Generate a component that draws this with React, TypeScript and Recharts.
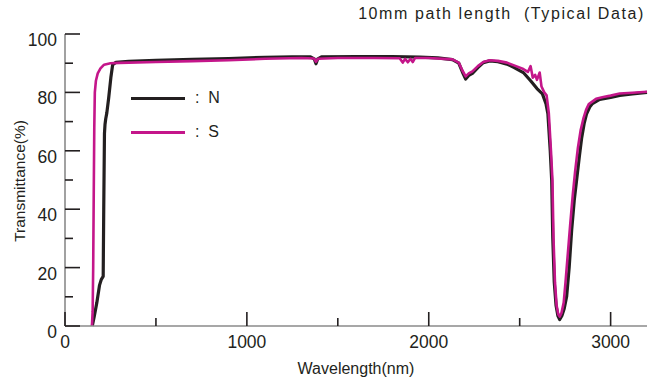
import { LineChart, Line, XAxis, YAxis, Label } from 'recharts';

// N grade (black)
const nWavelength = [
  150, 160, 175, 190, 200, 210, 213, 217, 220, 224, 230, 240, 252, 262, 280, 350, 500, 700, 900, 1100,
  1250, 1350, 1370, 1380, 1390, 1410, 1600, 1800, 1950, 2050, 2130, 2165, 2185, 2203, 2220, 2240, 2270,
  2300, 2335, 2380, 2430, 2470, 2520, 2560, 2595, 2625, 2645, 2655, 2668, 2676, 2682, 2690, 2700, 2710,
  2720, 2732, 2745, 2758, 2772, 2786, 2800, 2813, 2828, 2841, 2855, 2868, 2885, 2900, 2940, 3000, 3050,
  3120, 3200,
];
const nTransmittance = [
  0, 3, 8, 14, 16, 17, 40, 66, 69, 71, 73, 78, 85, 89.5, 90.3, 90.6, 91, 91.3, 91.6, 92,
  92.2, 92.2, 91.5, 89.8, 91.5, 92.2, 92.3, 92.3, 92.1, 91.8, 91.2, 90, 87, 84.6, 85.8, 86.5, 88.5,
  90.2, 90.8, 90.5, 89.7, 88.5, 86.8, 84, 81.3, 79.5, 76, 72.7, 60, 49.8, 30, 15, 7, 3.5,
  2.2, 3.5, 6, 10, 20, 33, 43, 50, 58, 64.5, 69.5, 72.7, 75, 76.2, 77.6, 78.3, 79,
  79.5, 80,
];

// S grade (magenta)
const sWavelength = [
  148, 152, 155, 158, 161, 164, 170, 180, 195, 215, 250, 300, 500, 700, 900, 1100, 1300, 1370, 1380,
  1390, 1500, 1700, 1840, 1857, 1870, 1885, 1900, 1912, 1925, 2000, 2130, 2165, 2185, 2203, 2220, 2240,
  2270, 2300, 2335, 2380, 2430, 2480, 2520, 2545, 2560, 2572, 2585, 2595, 2610, 2620, 2635, 2648, 2660,
  2672, 2680, 2686, 2694, 2703, 2712, 2720, 2730, 2742, 2752, 2765, 2778, 2792, 2805, 2820, 2835, 2850,
  2865, 2880, 2920, 2960, 3000, 3050, 3120, 3200,
];
const sTransmittance = [
  0, 5, 20, 45, 68, 80, 84, 86.5, 88.2, 89.5, 90, 90.1, 90.4, 90.7, 91, 91.5, 91.8, 91.6, 90.5,
  91.5, 91.8, 91.8, 91.7, 90.2, 91.5, 90.3, 91.5, 90.4, 91.8, 91.8, 91.3, 90.2, 87.5, 85.5, 86.5, 87.2,
  89, 90.4, 91, 90.8, 90.2, 89, 88, 87, 89, 85, 86, 84.3, 86.8, 82, 80, 79, 73,
  60, 50, 30, 15, 7, 4, 3.2, 4.5, 8, 15, 25, 35, 45, 53, 61, 67, 71,
  74, 76, 77.8, 78.4, 78.9, 79.6, 79.9, 80.2,
];

const xTicks = [0, 500, 1000, 1500, 2000, 2500, 3000];
const xLabels = [0, 1000, 2000, 3000];
const yTicks = [0, 10, 20, 30, 40, 50, 60, 70, 80, 90, 100];
const yLabels = [0, 20, 40, 60, 80, 100];

const toPoints = (w: number[], t: number[]) => w.map((v, i) => ({ w: v, t: t[i] }));

const series = [
  { key: 'N', label: ':  N', color: '#231f20', width: 3.2, data: toPoints(nWavelength, nTransmittance) },
  { key: 'S', label: ':  S', color: '#c4168a', width: 2.6, data: toPoints(sWavelength, sTransmittance) },
];

const INK = '#231f20';
const FONT = '"Liberation Sans", Arial, sans-serif';

function BottomTick({ x, y, payload }: any) {
  const major = xLabels.includes(payload.value);
  return (
    <g>
      <line x1={x} y1={y} x2={x} y2={y - (major ? 14 : 8)} stroke={INK} strokeWidth={1.6} />
      {major && (
        <text x={x} y={y + 22} textAnchor="middle" fontSize={17.5} fill={INK} fontFamily={FONT}>
          {payload.value}
        </text>
      )}
    </g>
  );
}

function LeftTick({ x, y, payload }: any) {
  const major = yLabels.includes(payload.value);
  return (
    <g>
      <line x1={x} y1={y} x2={x + (major ? 15 : 8)} y2={y} stroke={INK} strokeWidth={1.6} />
      {major && (
        <text x={x - 8} y={y + 12} textAnchor="end" fontSize={17.5} fill={INK} fontFamily={FONT}>
          {payload.value}
        </text>
      )}
    </g>
  );
}

function TopTick({ x, y }: any) {
  return <line x1={x} y1={y} x2={x} y2={y + 9} stroke={INK} strokeWidth={1.6} />;
}

function RightTick({ x, y }: any) {
  return <line x1={x} y1={y} x2={x - 10} y2={y} stroke={INK} strokeWidth={1.6} />;
}

function YTitle({ viewBox }: any) {
  const cx = viewBox.x + 19;
  const cy = viewBox.y + viewBox.height / 2 + 1;
  return (
    <text
      x={cx}
      y={cy}
      transform={`rotate(-90 ${cx} ${cy})`}
      textAnchor="middle"
      dominantBaseline="central"
      fontSize={15.5}
      fill={INK}
      fontFamily={FONT}
    >
      Transmittance(%)
    </text>
  );
}

function XTitle({ viewBox }: any) {
  return (
    <text
      x={viewBox.x + viewBox.width / 2}
      y={374}
      textAnchor="middle"
      fontSize={16}
      fill={INK}
      fontFamily={FONT}
    >
      Wavelength(nm)
    </text>
  );
}

export default function App() {
  return (
    <div style={{ position: 'absolute', left: 0, top: 0, width: 648, height: 380, background: '#fff' }}>
      <div
        style={{
          position: 'absolute',
          right: 3,
          top: 5,
          fontFamily: FONT,
          fontSize: 16,
          letterSpacing: 1.6,
          color: INK,
          whiteSpace: 'pre',
          lineHeight: '18px',
        }}
      >
        10mm path length  (Typical Data)
      </div>

      <LineChart width={648} height={380} margin={{ top: 34, right: 1, bottom: 0, left: 0 }}>
        <XAxis
          dataKey="w"
          type="number"
          domain={[0, 3200]}
          ticks={xTicks}
          interval={0}
          height={54}
          tickSize={0}
          tickMargin={0}
          tickLine={false}
          tick={<BottomTick />}
          axisLine={{ stroke: '#8a8a8a', strokeWidth: 1.6 }}
        >
          <Label content={<XTitle />} />
        </XAxis>
        <XAxis
          xAxisId="top"
          orientation="top"
          type="number"
          domain={[0, 3200]}
          allowDataOverflow
          ticks={xTicks.slice(1)}
          interval={0}
          height={0}
          tickSize={0}
          tickMargin={0}
          tickLine={false}
          tick={<TopTick />}
          axisLine={{ stroke: INK, strokeWidth: 1.6 }}
        />
        <YAxis
          type="number"
          domain={[0, 100]}
          ticks={yTicks}
          interval={0}
          width={65}
          tickSize={0}
          tickMargin={0}
          tickLine={false}
          tick={<LeftTick />}
          axisLine={{ stroke: '#8a8a8a', strokeWidth: 1.6 }}
        >
          <Label content={<YTitle />} />
        </YAxis>
        <YAxis
          yAxisId="right"
          orientation="right"
          type="number"
          domain={[0, 100]}
          allowDataOverflow
          ticks={yTicks.slice(1, -1)}
          interval={0}
          width={0}
          tickSize={0}
          tickMargin={0}
          tickLine={false}
          tick={<RightTick />}
          axisLine={{ stroke: '#3a3a3a', strokeWidth: 1.6 }}
        />
        {series.map((s) => (
          <Line
            key={s.key}
            data={s.data}
            dataKey="t"
            type="linear"
            stroke={s.color}
            strokeWidth={s.width}
            strokeLinejoin="round"
            dot={false}
            activeDot={false}
            isAnimationActive={false}
          />
        ))}
      </LineChart>

      <div style={{ position: 'absolute', left: 131, top: 81 }}>
        {series.map((s) => (
          <div key={s.key} style={{ display: 'flex', alignItems: 'center', height: 34 }}>
            <div style={{ width: 54, height: 3, background: s.color }} />
            <span style={{ marginLeft: 10, fontFamily: FONT, fontSize: 16, color: INK, whiteSpace: 'pre' }}>
              {s.label}
            </span>
          </div>
        ))}
      </div>
    </div>
  );
}
